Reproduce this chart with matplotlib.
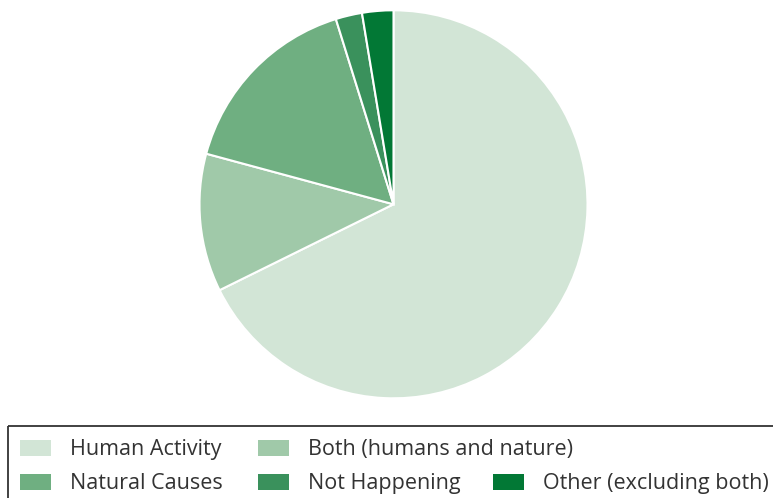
import matplotlib

matplotlib.use("Agg")

import matplotlib.pyplot as plt
from matplotlib.patches import Rectangle

labels = ["Human Activity", "Both (humans and nature)", "Natural Causes",
          "Not Happening", "Other (excluding both)"]
shares = [67.7, 11.5, 16.0, 2.2, 2.6]
colors = ["#d2e5d6", "#a0c9a9", "#6faf81", "#3a915c", "#027835"]

plt.rcParams["font.family"] = ["Open Sans", "DejaVu Sans"]

W, H = 773, 498
fig = plt.figure(figsize=(W / 100, H / 100), dpi=100)

# pie: centre (393.5, 204.3) px, radius 194 px
cx, cy, r = 393.5, 204.3, 194
ax = fig.add_axes([(cx - r) / W, (H - cy - r) / H, 2 * r / W, 2 * r / H])
ax.pie(shares, colors=colors, startangle=90, counterclock=False, radius=1,
       wedgeprops=dict(edgecolor="white", linewidth=1.5))
ax.set_xlim(-1, 1)
ax.set_ylim(-1, 1)
ax.set_aspect("equal")
ax.axis("off")

# legend in pixel coordinates
lg = fig.add_axes([0, 0, 1, 1], zorder=-1)
lg.set_xlim(0, W)
lg.set_ylim(H, 0)
lg.axis("off")
lg.add_patch(Rectangle((7.5, 425.5), 800, 100, fill=False,
                       edgecolor="#333333", linewidth=1.3, clip_on=False))
col_x = [20, 258, 493]
row_y = [440, 474]
order = [(0, 0), (0, 1), (1, 0), (1, 1), (1, 2)]
for (row, col), label, color in zip(order, labels, colors):
    x, y = col_x[col], row_y[row]
    lg.add_patch(Rectangle((x, y), 31, 16, facecolor=color, edgecolor="none"))
    lg.text(x + 50, y + 14.5, label, fontsize=15.5, color="#333333",
            va="baseline", ha="left")

fig.savefig("out.png", dpi=100)
plt.close(fig)
